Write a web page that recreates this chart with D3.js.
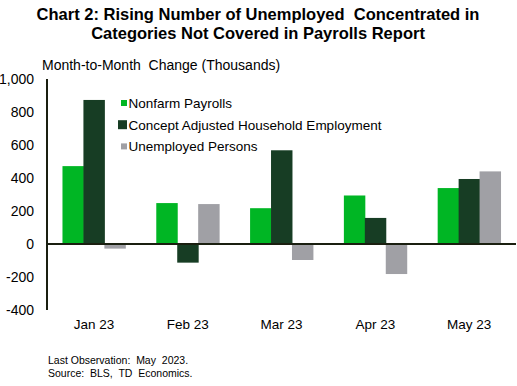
<!DOCTYPE html>
<html><head><meta charset="utf-8">
<script src="https://cdn.jsdelivr.net/npm/d3@7"></script>
<style>body{margin:0;background:#fff;}svg{display:block;font-family:Arial,"Liberation Sans",sans-serif;}</style>
</head><body><svg id="c" width="517" height="386"></svg>
<script>
const categories = ["Jan 23","Feb 23","Mar 23","Apr 23","May 23"];
const seriesNames = ["Nonfarm Payrolls","Concept Adjusted Household Employment","Unemployed Persons"];
const nonfarm = [472, 248, 217, 294, 339];
const household = [873, -113, 568, 158, 394];
const unemployed = [-28, 242, -97, -182, 440];
const yTicks = [-400,-200,0,200,400,600,800,1000];
const colors = ["#00b624","#173d24","#a0a0a5"];
const legendSizes = [6, 9, 6];

const svg = d3.select("#c");
const x = d3.scaleBand().domain(categories).range([47,516]).paddingInner(0.33).paddingOuter(0.165);
const sub = d3.scaleBand().domain(d3.range(3)).range([0,x.bandwidth()]);
const y = d3.scaleLinear().domain([-400,1000]).range([310,79]);

// title
const t = svg.append("text").attr("text-anchor","middle").attr("font-weight","bold").attr("font-size",16.5).attr("fill","#000");
t.append("tspan").attr("x",258).attr("y",20).attr("xml:space","preserve").text("Chart 2: Rising Number of Unemployed  Concentrated in");
t.append("tspan").attr("x",258).attr("y",39).text("Categories Not Covered in Payrolls Report");

svg.append("text").attr("x",42).attr("y",70).attr("font-size",14).attr("fill","#000").attr("xml:space","preserve").text("Month-to-Month  Change (Thousands)");

// y ticks
svg.append("g").selectAll("text").data(yTicks).join("text")
  .attr("x",34).attr("y",d=>y(d)+5).attr("text-anchor","end").attr("font-size",14).attr("fill","#000")
  .text(d=>d3.format(",")(d).replace("−","-"));

// bars
const data = [nonfarm, household, unemployed];
data.forEach((vals,si)=>{
  svg.append("g").selectAll("rect").data(vals).join("rect")
    .attr("x",(d,i)=>x(categories[i])+sub(si))
    .attr("width",sub.bandwidth()+0.5)
    .attr("y",d=>y(Math.max(0,d)))
    .attr("height",d=>Math.abs(y(d)-y(0)))
    .attr("fill",colors[si]);
});

// axes lines
svg.append("line").attr("x1",47).attr("x2",47).attr("y1",79).attr("y2",310).attr("stroke","#1a1f10").attr("stroke-width",2);
svg.append("line").attr("x1",46).attr("x2",516).attr("y1",y(0)).attr("y2",y(0)).attr("stroke","#1a1f10").attr("stroke-width",2);

// x labels
svg.append("g").selectAll("text").data(categories).join("text")
  .attr("x",d=>x(d)+x.bandwidth()/2).attr("y",329).attr("text-anchor","middle").attr("font-size",13.5).attr("fill","#000").text(d=>d);

// legend
const lg = svg.append("g");
seriesNames.forEach((s,i)=>{
  const cy = 103 + i*21.7;
  const sz = legendSizes[i];
  lg.append("rect").attr("x",127-sz).attr("y",cy-sz/2).attr("width",sz).attr("height",sz).attr("fill",colors[i]);
  lg.append("text").attr("x",128.5).attr("y",cy+5).attr("font-size",13.5).attr("fill","#000").text(s);
});

// footer
svg.append("text").attr("x",48).attr("y",364).attr("font-size",10.5).attr("fill","#000").attr("xml:space","preserve").text("Last Observation:  May  2023.");
svg.append("text").attr("x",48).attr("y",377).attr("font-size",10.5).attr("fill","#000").attr("xml:space","preserve").text("Source:  BLS,  TD  Economics.");
</script></body></html>
